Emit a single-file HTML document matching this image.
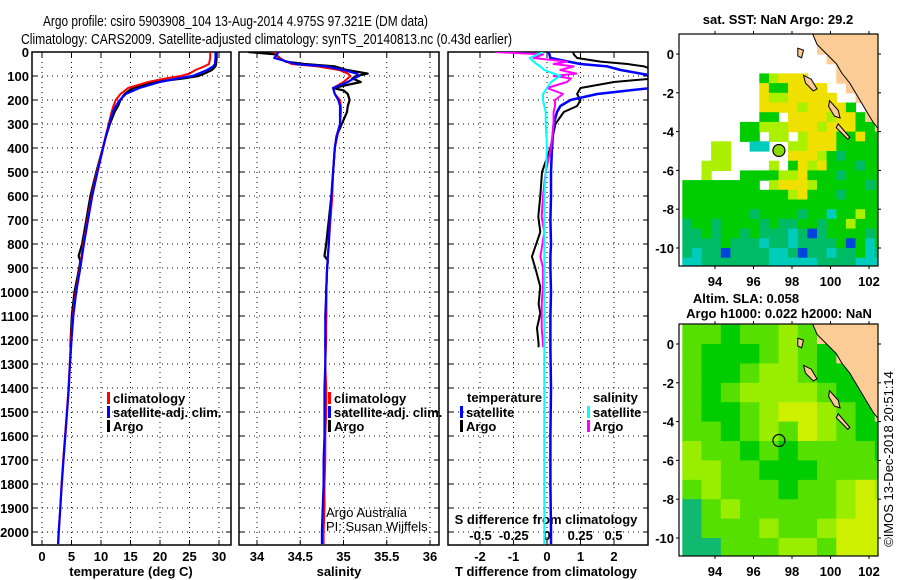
<!DOCTYPE html>
<html><head><meta charset="utf-8"><style>
body{margin:0;background:#fff}
svg{display:block}
text{font-family:"Liberation Sans",sans-serif;fill:#000}
.b{font-weight:bold;font-size:13px}
</style></head><body>
<svg id="chart" width="900" height="580" viewBox="0 0 900 580" xmlns="http://www.w3.org/2000/svg">
<text x="43" y="26" font-size="15" textLength="385" lengthAdjust="spacingAndGlyphs">Argo profile: csiro 5903908_104 13-Aug-2014 4.975S 97.321E (DM data)</text>
<text x="21" y="44" font-size="15" textLength="491" lengthAdjust="spacingAndGlyphs">Climatology: CARS2009. Satellite-adjusted climatology: synTS_20140813.nc (0.43d earlier)</text>
<g id="g"></g>
</svg>
<script>
// ---------- data ----------
const depthTicks=[0,100,200,300,400,500,600,700,800,900,1000,1100,1200,1300,1400,1500,1600,1700,1800,1900,2000];
const climDepths=[0,25,50,60,75,90,100,110,125,150,175,200,225,250,300,350,400,500,600,700,800,850,900,1000,1100,1200,1300,1400,1500,1600,1700,1800,1900,2000,2050];
const tClim=[28.5,28.5,28.3,27.5,26,25,23.5,21,18,14.6,13.3,12.5,12.1,11.8,11.3,10.8,10.3,9.3,8.4,7.7,7.0,6.7,6.4,5.7,5.2,4.9,4.7,4.5,4.2,3.9,3.6,3.3,3.1,2.8,2.7];
const tSat=[29.4,29.4,29.3,29,28,26.5,25.5,23,20,16.5,14.2,13.2,12.5,12.0,11.4,10.85,10.35,9.4,8.5,7.8,7.1,6.8,6.5,5.8,5.3,5.0,4.75,4.55,4.25,3.95,3.65,3.35,3.1,2.85,2.75];
const sClim=[34.2,34.25,34.4,34.7,34.95,35.05,35.08,35.05,35.0,34.88,34.9,34.96,34.97,34.97,34.96,34.93,34.9,34.88,34.87,34.85,34.83,34.82,34.81,34.8,34.8,34.8,34.79,34.8,34.8,34.79,34.79,34.78,34.78,34.77,34.77];
const sSat=[34.25,34.2,34.45,34.8,35.0,35.15,35.18,35.12,35.05,34.88,34.9,34.94,34.96,34.96,34.96,34.92,34.9,34.88,34.86,34.84,34.83,34.82,34.81,34.8,34.79,34.79,34.79,34.78,34.78,34.78,34.77,34.77,34.76,34.75,34.75];
const argoDepths=[0,10,25,40,50,60,75,90,100,110,125,150,160,175,200,225,250,300,350,400,500,600,700,800,850,870,900,1000,1100,1230];
const tArgo=[29.6,29.6,29.6,29.55,29.5,29.4,28.8,27.5,26.5,24,19,15.5,14.8,14,13.3,12.9,12.3,11.5,10.85,10.3,9.2,8.2,7.5,6.8,6.2,6.5,6.3,5.5,5.05,4.8];
const sArgo=[33.9,34.22,34.26,34.33,34.55,34.9,35.04,35.28,35.15,35.1,35.2,34.88,35.0,35.05,35.07,35.05,35.04,34.98,34.92,34.9,34.88,34.86,34.83,34.8,34.78,34.82,34.81,34.8,34.8,34.79];
const diffDepths=[0,25,50,60,75,90,100,110,125,150,175,200,225,250,300,400,500,600,700,800,850,900,1000,1100,1230,1400,1600,1800,2000,2050];
const dTSat=[0.05,0.1,1.0,1.8,2.2,2.8,3.2,3.2,3.2,3.1,1.5,0.7,0.4,0.3,0.2,0.15,0.12,0.12,0.1,0.12,0.1,0.1,0.12,0.1,0.1,0.12,0.1,0.1,0.12,0.12];
const dSSat=[-0.03,-0.13,-0.08,-0.05,-0.02,0.05,0.1,0.07,0.03,0.0,-0.03,-0.03,-0.02,-0.01,-0.01,0.0,-0.01,-0.02,-0.02,-0.02,-0.02,-0.02,-0.02,-0.02,-0.02,-0.02,-0.02,-0.02,-0.02,-0.02];
const argoDiffDepths=[0,10,25,40,50,60,75,90,100,110,125,150,175,200,225,250,300,400,500,600,686,750,853,900,978,1050,1090,1150,1215,1230];
const dTArgo=[0.78,0.8,0.9,1.6,2.4,2.9,3.2,3.2,3.2,3.2,2.0,1.0,0.9,1.0,0.9,0.5,0.25,0.1,-0.15,-0.2,-0.26,-0.2,-0.45,-0.35,-0.2,-0.25,-0.2,-0.3,-0.25,-0.25];
const dSArgo=[-0.39,-0.03,-0.1,0.15,0.05,0.2,0.1,0.22,0.05,0.18,0.15,0.0,0.12,0.06,0.06,0.05,0.05,0.03,-0.01,-0.03,-0.04,-0.02,-0.05,-0.03,-0.03,-0.04,-0.04,-0.04,-0.03,-0.03];
const tTicks=[0,5,10,15,20,25,30];
const sTicks=[34,34.5,35,35.5,36];
const sTickLabels=["34","34.5","35","35.5","36"];
const tdTicks=[-2,-1,0,1,2];
const sdTicks=[-0.5,-0.25,0,0.25,0.5];
const sdTickLabels=["-0.5","-0.25","0","0.25","0.5"];
const sstGrid=[
"..............LLLLLLL",
"..............LLLLLLL",
"...............LLLLLL",
"................LLLLL",
"........glyyy...LLLLL",
"........yggyyyy..LLLL",
"........yllyyyyy..LLL",
"........yyyylyyyyg.LL",
"........gg.yyyylyygLL",
"......gglllyyylyyyggL",
"......gg.ll.lyyyggygg",
"...ll..cc..llyyyggggg",
"...ll......yyylgtgggg",
"..lll....l.gylygggtgg",
"..l...ggggllygggtgggg",
"gggggggg.lyyylgggggtg",
"ggggggggggglygggtgggg",
"ggggggggggggggggggggg",
"gggggggtggggtggcgglgg",
"tggtggggtgttggtgglggg",
"ttgtggtgtttctbtggggtg",
"ttttgtttcttcttttgbgcg",
"tcttbttttcctbttcttgct",
"cctttttttcccccttttccc"];
const slaGrid=[
"mmgmmlmLLLL",
"mgggmlmgLLL",
"mggmllmggLL",
"mgmllllmggL",
"mggmlyylmgL",
"mmgmlmylmgg",
"lmmgmgmmmmg",
"llmmgggmmmm",
"mlmmmgmmlyl",
"tmlmmmmmlyy",
"tmmmlmmlyyy",
"ttmmmllmyyy"];
const argoLon=97.321, argoLat=-4.975;
const mapLonTicks=[94,96,98,100,102];
const mapLatTicks=[0,-2,-4,-6,-8,-10];

// ---------- drawing ----------
const NS="http://www.w3.org/2000/svg";
const G=document.getElementById('g');
function el(t,a,p){const e=document.createElementNS(NS,t);for(const k in a)e.setAttribute(k,a[k]);(p||G).appendChild(e);return e;}
function tx(x,y,s,cls,anchor,p){const e=el('text',{x:x,y:y,'class':cls||'b','text-anchor':anchor||'start'},p);e.textContent=s;return e;}
const yD=d=>52+d*0.24;
const TOP=52,BOT=545;
const panels=[{l:32,r:231,name:'temperature-panel'},{l:239,r:439,name:'salinity-panel'},{l:448,r:648,name:'difference-panel'}];
const xT=v=>42+v*5.9, xS=v=>257+(v-34)*86.5, xTD=v=>547+v*33.5, xSD=v=>547+v*133;
const xfuncs=[xT,xS,xTD];
const xTickSets=[tTicks,sTicks,tdTicks];

panels.forEach((p,i)=>{
  const g=el('g',{});
  
  
  depthTicks.forEach(d=>{
    const y=yD(d);
    const l=el('line',{x1:p.l,x2:p.r,y1:y,y2:y,stroke:'#000','stroke-width':1,'stroke-dasharray':'1,4'},g);
    
    
    el('line',{x1:p.l,x2:p.l+5,y1:y,y2:y,stroke:'#000'},g);
    el('line',{x1:p.r-5,x2:p.r,y1:y,y2:y,stroke:'#000'},g);
  });
  xTickSets[i].forEach(v=>{
    const x=xfuncs[i](v);
    const l=el('line',{x1:x,x2:x,y1:TOP,y2:BOT,stroke:'#000','stroke-width':1,'stroke-dasharray':'1,4'},g);
    
    
    el('line',{x1:x,x2:x,y1:TOP,y2:TOP+5,stroke:'#000'},g);
    el('line',{x1:x,x2:x,y1:BOT-5,y2:BOT,stroke:'#000'},g);
  });
  el('rect',{x:p.l,y:TOP,width:p.r-p.l,height:BOT-TOP,fill:'none',stroke:'#000','stroke-width':1.5},g);
});
depthTicks.forEach(d=>{
  const t=tx(29,yD(d)+5,String(d),'b','end');
  
  
});
tTicks.forEach(v=>{const t=tx(xT(v),561,String(v),'b','middle');});
sTicks.forEach((v,i)=>{const t=tx(xS(v),561,sTickLabels[i],'b','middle');});
tdTicks.forEach(v=>{const t=tx(xTD(v),561,String(v),'b','middle');});
sdTicks.forEach((v,i)=>{const t=tx(xSD(v),540,sdTickLabels[i],'b','middle');});
let t;
t=tx(131,576,'temperature (deg C)','b','middle');
t=tx(339,576,'salinity','b','middle');
t=tx(546,576,'T difference from climatology','b','middle');
t=tx(546,524,'S difference from climatology','b','middle');

const defs=el('defs',{});
panels.forEach((p,i)=>{const c=el('clipPath',{id:'c'+i},defs);el('rect',{x:p.l,y:TOP,width:p.r-p.l,height:BOT-TOP},c);});
function line(depths,vals,xf,color,w,ci,name){
  const pts=depths.map((d,i)=>xf(vals[i]).toFixed(1)+','+yD(d).toFixed(1)).join(' ');
  const pl=el('polyline',{points:pts,fill:'none',stroke:color,'stroke-width':w,'clip-path':'url(#c'+ci+')','stroke-linejoin':'round'});
  
  
}
line(argoDepths,tArgo,xT,'#000',2.2,0,'argo-temperature-line');
line(climDepths,tClim,xT,'#f00',2,0,'climatology-temperature-line');
line(climDepths,tSat,xT,'#00f',2.2,0,'satellite-temperature-line');
line(argoDepths,sArgo,xS,'#000',2.2,1,'argo-salinity-line');
line(climDepths,sClim,xS,'#f00',2,1,'climatology-salinity-line');
line(climDepths,sSat,xS,'#00f',2.2,1,'satellite-salinity-line');
line(argoDiffDepths,dTArgo,xTD,'#000',2,2,'argo-t-diff-line');
line(diffDepths,dTSat,xTD,'#00f',2.5,2,'satellite-t-diff-line');
line(argoDiffDepths,dSArgo,xSD,'#f0f',2,2,'argo-s-diff-line');
line(diffDepths,dSSat,xSD,'#0ff',2,2,'satellite-s-diff-line');

function legItem(x,y,color,label,name){
  const g=el('g',{});
  
  
  el('rect',{x:x,y:y-11,width:3,height:12,fill:color},g);
  tx(x+6,y,label,'b','start',g);
}
legItem(107,403,'#f00','climatology','legend-climatology');
legItem(107,417,'#00f','satellite-adj. clim.','legend-satellite-adj');
legItem(107,431,'#000','Argo','legend-argo');
legItem(328,403,'#f00','climatology','legend-climatology-salinity');
legItem(328,417,'#00f','satellite-adj. clim.','legend-satellite-adj-salinity');
legItem(328,431,'#000','Argo','legend-argo-salinity');
t=tx(467,402,'temperature','b','start');
legItem(460,417,'#00f','satellite','legend-t-satellite');
legItem(460,431,'#000','Argo','legend-t-argo');
t=tx(593,402,'salinity','b','start');
legItem(587,417,'#0ff','satellite','legend-s-satellite');
legItem(587,431,'#f0f','Argo','legend-s-argo');
t=el('text',{x:326,y:517,'font-size':13,'text-anchor':'start'});t.textContent='Argo Australia';
t=el('text',{x:326,y:531,'font-size':13,'text-anchor':'start'});t.textContent='PI: Susan Wijffels';

// ---------- maps ----------
const MAPL=679,MAPR=878;
const lonX=lon=>715+(lon-94)*19.25;
const sstCol={g:'#00cc00',l:'#aaf000',y:'#f0e000',t:'#00bb66',c:'#00ccbb',b:'#0044dd',L:'#fccc96'};
const slaCol={g:'#00cc00',m:'#55e000',l:'#99ee00',y:'#ccf000',t:'#10b870',L:'#fccc96'};
const landPts=[[99.0,1.2],[99.3,0.5],[99.8,0],[100.3,-0.5],[100.6,-1],[101,-1.5],[101.3,-2],[101.6,-2.5],[101.9,-3],[102.2,-3.5],[102.6,-4],[102.6,1.2]];
function drawMap(top,lat0y,grid,cols,step,name,circleFill){
  const latY=lat=>lat0y-lat*19.4;
  const g=el('g',{});
  
  
  const cid='m'+name;
  const cp=el('clipPath',{id:cid},defs);
  el('rect',{x:MAPL,y:top,width:MAPR-MAPL,height:232},cp);
  const inner=el('g',{'clip-path':'url(#'+cid+')'},g);
  grid.forEach((row,j)=>{
    for(let i=0;i<row.length;i++){
      const ch=row[i]; if(ch==='.')continue;
      const lon=92.3+i*step, lat=1-j*step;
      const x=lonX(lon), y=latY(lat);
      const r=el('rect',{x:x.toFixed(1),y:y.toFixed(1),width:(step*19.25+0.6).toFixed(1),height:(step*19.4+0.6).toFixed(1),fill:cols[ch]},inner);
      
      
    }
  });
  const lp=el('polygon',{points:landPts.map(p=>lonX(p[0]).toFixed(1)+','+latY(p[1]).toFixed(1)).join(' '),fill:'#fccc96',stroke:'#000','stroke-width':1},inner);
  
  
  const isl=[[[98.6,-1.1],[99.0,-1.3],[99.3,-1.8],[99.1,-1.9],[98.7,-1.5]],[[99.95,-2.4],[100.4,-2.9],[100.5,-3.3],[100.2,-3.2],[99.9,-2.7]],[[98.3,0.3],[98.6,0.2],[98.5,-0.2],[98.3,-0.1]],[[100.4,-3.6],[101.0,-4.3],[100.9,-4.4],[100.3,-3.8]]];
  isl.forEach(ps=>{const ip=el('polygon',{points:ps.map(p=>lonX(p[0]).toFixed(1)+','+latY(p[1]).toFixed(1)).join(' '),fill:'#fccc96',stroke:'#000','stroke-width':1},inner);});
  const c=el('circle',{cx:lonX(argoLon),cy:latY(argoLat),r:6,fill:circleFill,stroke:'#000','stroke-width':1.2},g);
  
  
  el('rect',{x:MAPL,y:top,width:MAPR-MAPL,height:232,fill:'none',stroke:'#000','stroke-width':1.2},g);
  mapLatTicks.forEach(v=>{const y=latY(v);el('line',{x1:MAPL-3,x2:MAPL,y1:y,y2:y,stroke:'#000'},g);el('line',{x1:MAPR,x2:MAPR+3,y1:y,y2:y,stroke:'#000'},g);
    const tl=tx(674,y+5,String(v),'b','end',g);});
  mapLonTicks.forEach(v=>{const x=lonX(v);el('line',{x1:x,x2:x,y1:top-3,y2:top,stroke:'#000'},g);el('line',{x1:x,x2:x,y1:top+232,y2:top+235,stroke:'#000'},g);
    const tl=tx(x,top+252,String(v),'b','middle',g);});
}
drawMap(34,54,sstGrid,sstCol,0.5,'sst-map','#88dd00');
drawMap(324,344,slaGrid,slaCol,1,'sla-map','none');
t=tx(778,24,'sat. SST: NaN Argo: 29.2','b','middle');
t=tx(746,303,'Altim. SLA: 0.058','b','middle');
t=tx(779,318,'Argo h1000: 0.022 h2000: NaN','b','middle');
t=el('text',{x:0,y:0,'font-size':13,transform:'translate(893,459) rotate(-90)','text-anchor':'middle'});t.textContent='©IMOS 13-Dec-2018 20:51:14';

</script>
</body></html>
